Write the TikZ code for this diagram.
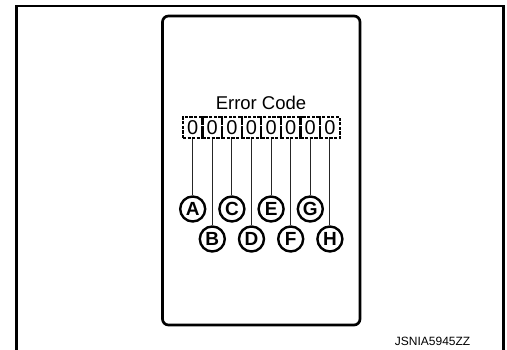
\documentclass[tikz,border=0pt]{standalone}
\usepackage{fontspec}
\setmainfont{Liberation Sans}
\usetikzlibrary{positioning}
\begin{document}
\begin{tikzpicture}[x=1pt, y=-1pt, thick,
  digitbox/.style={draw, line width=2.3pt, dash pattern=on 3.2pt off 1.4pt,
    minimum width=19.6pt, minimum height=21pt, inner sep=0pt,
    font=\fontsize{20}{20}\selectfont},
  tag/.style={draw, circle, line width=2.4pt, minimum size=25pt, inner sep=0pt,
    font=\bfseries\fontsize{19}{19}\selectfont}]
\useasboundingbox (0,0) rectangle (507,350);
% outer frame, open at the bottom
\draw[line width=2.8pt] (16.5,352) -- (16.5,6) -- (503.5,6) -- (503.5,352);
% display panel
\draw[line width=2.7pt, rounded corners=6pt] (162.5,16) rectangle (360,325);
\node[font=\fontsize{18.5}{18.5}\selectfont, anchor=base] (title) at (261,109.5) {Error Code};
% digit boxes and their tags
\foreach \k/\l/\yy in {1/A/209, 2/B/239, 3/C/209, 4/D/239, 5/E/209, 6/F/239, 7/G/209, 8/H/239}{
  \node[digitbox] (d\k) at ({192.7+19.6*(\k-1)},127.5) {0};
  \node[tag] (c\k) at ({192.7+19.6*(\k-1)},\yy) {\l};
  \draw[line width=1.1pt, black!85] (d\k.south) -- (c\k.north);
}
\node[font=\fontsize{12}{12}\selectfont, anchor=base east] (code) at (474,346) {JSNIA5945ZZ};
\end{tikzpicture}
\end{document}
